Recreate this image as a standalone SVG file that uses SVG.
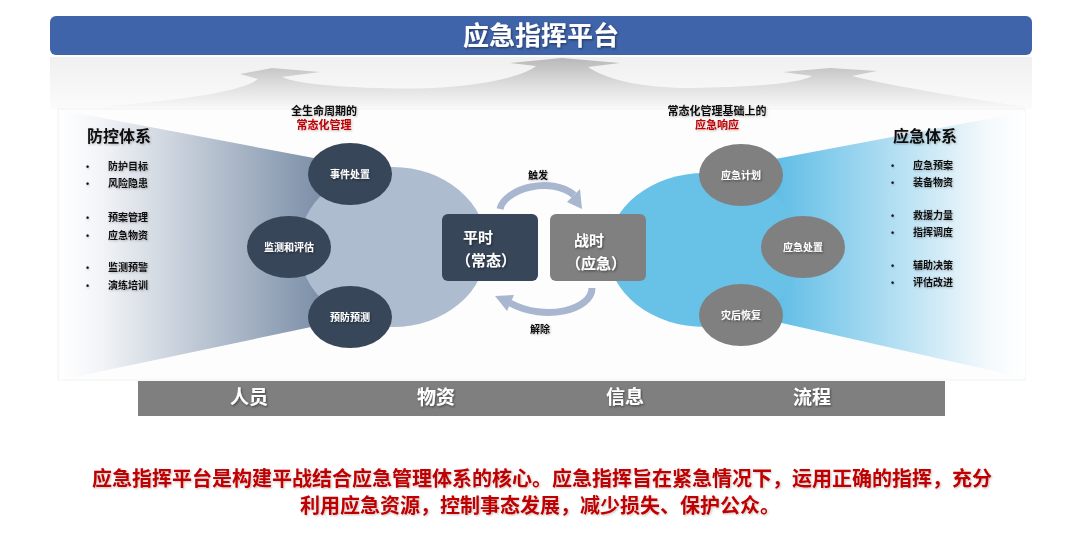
<svg xmlns="http://www.w3.org/2000/svg" width="1068" height="542" viewBox="0 0 1068 542">
<defs>
<linearGradient id="band" x1="0" y1="0" x2="0" y2="1"><stop offset="0" stop-color="#f0f0f0"/><stop offset="1" stop-color="#fbfbfb"/></linearGradient>
<linearGradient id="hump" x1="0" y1="0" x2="0" y2="1"><stop offset="0" stop-color="#b8b8b8"/><stop offset="0.55" stop-color="#dedede"/><stop offset="1" stop-color="#f7f7f7"/></linearGradient>
<linearGradient id="funL" x1="60" y1="0" x2="335" y2="0" gradientUnits="userSpaceOnUse"><stop offset="0" stop-color="#ffffff"/><stop offset="0.15" stop-color="#f2f4f7"/><stop offset="1" stop-color="#7489a3"/></linearGradient>
<linearGradient id="funR" x1="775" y1="0" x2="1025" y2="0" gradientUnits="userSpaceOnUse"><stop offset="0" stop-color="#5fbde6"/><stop offset="0.85" stop-color="#f4f9fc"/><stop offset="1" stop-color="#ffffff"/></linearGradient>
<filter id="sh" x="-20%" y="-20%" width="140%" height="160%"><feDropShadow dx="1" dy="1.2" stdDeviation="0.8" flood-color="#000" flood-opacity="0.45"/></filter>
<filter id="shl" x="-20%" y="-20%" width="140%" height="160%"><feDropShadow dx="1" dy="1" stdDeviation="0.8" flood-color="#000" flood-opacity="0.25"/></filter>
</defs>
<style>
text{font-family:"Liberation Sans","Noto Sans CJK SC",sans-serif;font-weight:bold}
.w{fill:#ffffff;filter:url(#sh)}
.k{fill:#111111;filter:url(#shl)}
.r{fill:#c00000;filter:url(#shl)}
.dk{fill:#374659}
.gr{fill:#808080}
.c10{font-size:10px;text-anchor:middle}
.li{font-size:10px}
.bu{font-size:9px}
.arc{fill:none;stroke:#a9b6cf;stroke-width:7;stroke-linecap:butt}
.head{fill:#a9b6cf}
</style>
<rect width="1068" height="542" fill="#ffffff"/>

<g id="title">
<rect x="50" y="16" width="982" height="39" rx="6" fill="#4064a9"/>
<text x="541" y="45" class="w" style="font-size:26px;text-anchor:middle">应急指挥平台</text>
</g>

<g id="band">
<rect x="50" y="57" width="982" height="52" fill="url(#band)"/>
<path d="M100 107 C170 101 240 93 258 79 L240 74 L272 68 L320 72 L282 77 C300 86 380 90 433 88 C490 85 525 75 536 66 L510 63 L562 58 L620 63 L588 67 C610 82 650 88 690 88 C760 87 800 83 812 76 L783 72 L830 68 L877 71 L852 76 C900 88 980 100 1025 107 Z" fill="url(#hump)"/>
</g>

<rect x="58" y="109" width="967" height="271" fill="#fdfdfd" stroke="#f2f2f2"/>

<g id="funnel-left">
<polygon points="60,110 335,162 335,322 60,380" fill="url(#funL)"/>
</g>
<g id="funnel-right">
<polygon points="760,162 1025,112 1025,378 760,318" fill="url(#funR)"/>
</g>

<g id="ellipse-left"><ellipse cx="393" cy="247" rx="94" ry="80" fill="#adbdcf"/></g>
<g id="ellipse-right"><ellipse cx="705" cy="250" rx="97" ry="77" fill="#68c2e7"/></g>

<g id="n-sjcz"><ellipse cx="350" cy="174" rx="42" ry="31" class="dk"/><text x="350" y="178" class="w c10">事件处置</text></g>
<g id="n-jcpg"><ellipse cx="289" cy="247" rx="42" ry="31" class="dk"/><text x="289" y="251" class="w c10">监测和评估</text></g>
<g id="n-yfyc"><ellipse cx="350" cy="317" rx="42" ry="31" class="dk"/><text x="350" y="321" class="w c10">预防预测</text></g>

<g id="n-yjjh"><ellipse cx="741" cy="175" rx="42" ry="31" class="gr"/><text x="741" y="179" class="w c10">应急计划</text></g>
<g id="n-yjcz"><ellipse cx="803" cy="247" rx="42" ry="31" class="gr"/><text x="803" y="251" class="w c10">应急处置</text></g>
<g id="n-zhhf"><ellipse cx="741" cy="315" rx="42" ry="31" class="gr"/><text x="741" y="319" class="w c10">灾后恢复</text></g>

<g id="n-pingshi">
<rect x="442" y="214" width="96" height="67" rx="6" class="dk"/>
<text x="463" y="243" class="w" style="font-size:15px">平时</text>
<text x="456" y="266" class="w" style="font-size:15px">（常态）</text>
</g>
<g id="n-zhanshi">
<rect x="550" y="214" width="96" height="67" rx="6" class="gr"/>
<text x="574" y="246" class="w" style="font-size:15px">战时</text>
<text x="566" y="269" class="w" style="font-size:15px">（应急）</text>
</g>

<g id="connectors">
<path class="arc" d="M500 209 C505 188 552 176 574 195"/>
<polygon class="head" points="567,202 582,209 580,189"/>
<path class="arc" d="M592 288 C592 310 545 322 510 303"/>
<polygon class="head" points="514,295 495,296 507,311"/>
</g>
<text x="538" y="179" class="k c10">触发</text>
<text x="540" y="333" class="k c10">解除</text>

<g id="labels-top">
<text x="324" y="115" class="k" style="font-size:11px;text-anchor:middle">全生命周期的</text>
<text x="324" y="129" class="r" style="font-size:11px;text-anchor:middle">常态化管理</text>
<text x="717" y="115" class="k" style="font-size:11px;text-anchor:middle">常态化管理基础上的</text>
<text x="717" y="129" class="r" style="font-size:11px;text-anchor:middle">应急响应</text>
</g>

<g id="list-left">
<text x="87" y="142" class="k" style="font-size:16px">防控体系</text>
<text x="86" y="170" class="k bu">•</text><text x="108" y="170" class="k li">防护目标</text>
<text x="86" y="187" class="k bu">•</text><text x="108" y="187" class="k li">风险隐患</text>
<text x="86" y="221" class="k bu">•</text><text x="108" y="221" class="k li">预案管理</text>
<text x="86" y="239" class="k bu">•</text><text x="108" y="239" class="k li">应急物资</text>
<text x="86" y="271" class="k bu">•</text><text x="108" y="271" class="k li">监测预警</text>
<text x="86" y="289" class="k bu">•</text><text x="108" y="289" class="k li">演练培训</text>
</g>

<g id="list-right">
<text x="893" y="142" class="k" style="font-size:16px">应急体系</text>
<text x="891" y="169" class="k bu">•</text><text x="913" y="169" class="k li">应急预案</text>
<text x="891" y="186" class="k bu">•</text><text x="913" y="186" class="k li">装备物资</text>
<text x="891" y="219" class="k bu">•</text><text x="913" y="219" class="k li">救援力量</text>
<text x="891" y="236" class="k bu">•</text><text x="913" y="236" class="k li">指挥调度</text>
<text x="891" y="269" class="k bu">•</text><text x="913" y="269" class="k li">辅助决策</text>
<text x="891" y="286" class="k bu">•</text><text x="913" y="286" class="k li">评估改进</text>
</g>

<g id="base-bar">
<rect x="138" y="381" width="807" height="35" fill="#7f7f7f"/>
<text x="249" y="404" class="w" style="font-size:19px;text-anchor:middle">人员</text>
<text x="436" y="404" class="w" style="font-size:19px;text-anchor:middle">物资</text>
<text x="625" y="404" class="w" style="font-size:19px;text-anchor:middle">信息</text>
<text x="812" y="404" class="w" style="font-size:19px;text-anchor:middle">流程</text>
</g>

<g id="summary">
<text x="542" y="486" class="r" style="font-size:20px;text-anchor:middle">应急指挥平台是构建平战结合应急管理体系的核心。应急指挥旨在紧急情况下，运用正确的指挥，充分</text>
<text x="540" y="513" class="r" style="font-size:20px;text-anchor:middle">利用应急资源，控制事态发展，减少损失、保护公众。</text>
</g>
</svg>
